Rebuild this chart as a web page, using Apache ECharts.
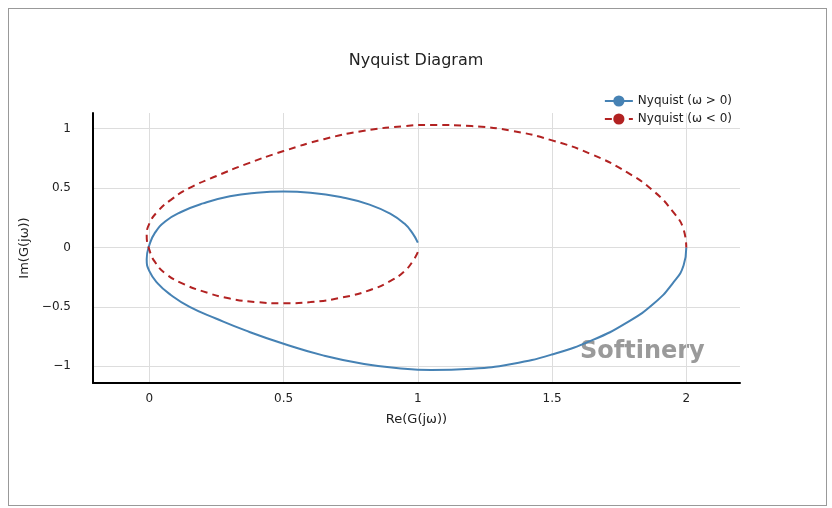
<!DOCTYPE html>
<html>
<head>
<meta charset="utf-8">
<script src="https://cdn.jsdelivr.net/npm/echarts@6/dist/echarts.min.js"></script>
<style>
html,body{margin:0;padding:0;background:#fff;}
#frame{position:absolute;left:8px;top:8px;width:817px;height:496px;border:1px solid #999;}
#main{position:absolute;left:0;top:0;width:832px;height:508px;}
</style>
</head>
<body>
<div id="frame"></div>
<div id="main"></div>
<script>
// Nyquist (w > 0)
var posPts = [[1.00,0.04],[0.98,0.12],[0.95,0.20],[0.90,0.28],[0.82,0.36],[0.72,0.42],[0.60,0.46],[0.50,0.47],
	[0.40,0.46],[0.30,0.43],[0.20,0.37],[0.12,0.30],[0.06,0.22],[0.02,0.12],[0.00,0.02],[-0.01,-0.10],
	[0.00,-0.20],[0.03,-0.30],[0.08,-0.40],[0.15,-0.50],[0.25,-0.60],[0.36,-0.70],[0.50,-0.81],[0.65,-0.91],
	[0.80,-0.98],[0.95,-1.02],[1.05,-1.03],[1.20,-1.02],[1.35,-0.98],[1.50,-0.90],[1.65,-0.78],[1.78,-0.63],
	[1.88,-0.47],[1.95,-0.30],[1.99,-0.15],[2.00,0.00]];
// Nyquist (w < 0)
var negPts = [[1.00,-0.04],[0.98,-0.12],[0.95,-0.20],[0.90,-0.28],[0.82,-0.36],[0.72,-0.42],[0.60,-0.46],[0.50,-0.47],
	[0.40,-0.46],[0.30,-0.43],[0.20,-0.37],[0.12,-0.30],[0.06,-0.22],[0.02,-0.12],[0.00,-0.02],[-0.01,0.10],
	[0.00,0.20],[0.03,0.30],[0.08,0.40],[0.15,0.50],[0.25,0.60],[0.36,0.70],[0.50,0.81],[0.65,0.91],
	[0.80,0.98],[0.95,1.02],[1.05,1.03],[1.20,1.02],[1.35,0.98],[1.50,0.90],[1.65,0.78],[1.78,0.63],
	[1.88,0.47],[1.95,0.30],[1.99,0.15],[2.00,0.00]];
var xTicks = [0, 0.5, 1, 1.5, 2];
var yTicks = [-1, -0.5, 0, 0.5, 1];

var chart = echarts.init(document.getElementById('main'));
var font = 'Verdana, "DejaVu Sans", sans-serif';
var fmt = function(v){ return String(v).replace('-', '\u2212'); };
chart.setOption({
	animation: false,
	textStyle: {fontFamily: font},
	title: {text: 'Nyquist Diagram', left: 'center', top: 48,
		textStyle: {fontFamily: font, fontSize: 16, fontWeight: 'normal', color: '#222'}},
	legend: {
		top: 90, right: 95, orient: 'vertical', itemGap: 6, itemWidth: 28,
		textStyle: {fontFamily: font, fontSize: 12, color: '#222'},
		data: ['Nyquist (\u03c9 > 0)', 'Nyquist (\u03c9 < 0)']
	},
	grid: {left: 93, right: 92, top: 113, bottom: 125},
	xAxis: {
		type: 'value', min: -0.21, max: 2.2,
		name: 'Re(G(j\u03c9))', nameLocation: 'middle', nameGap: 30,
		nameTextStyle: {fontFamily: font, fontSize: 13, color: '#222'},
		axisLine: {show: true, onZero: false, lineStyle: {color: '#000', width: 2}},
		axisTick: {show: false, customValues: xTicks},
		axisLabel: {fontSize: 12, color: '#222', margin: 10, customValues: xTicks, formatter: fmt},
		splitLine: {show: true, lineStyle: {color: '#ddd'}}
	},
	yAxis: {
		type: 'value', min: -1.14, max: 1.13,
		name: 'Im(G(j\u03c9))', nameLocation: 'middle', nameGap: 52,
		nameTextStyle: {fontFamily: font, fontSize: 13, color: '#222'},
		axisLine: {show: true, onZero: false, lineStyle: {color: '#000', width: 2}},
		axisTick: {show: false, customValues: yTicks},
		axisLabel: {fontSize: 12, color: '#222', margin: 22, customValues: yTicks, formatter: fmt},
		splitLine: {show: true, lineStyle: {color: '#ddd'}}
	},
	graphic: [{
		type: 'text', left: 580, top: 340,
		style: {text: 'Softinery', fontSize: 24, fontWeight: 'bold', fill: 'rgba(120,120,120,0.75)', fontFamily: font}
	}],
	series: [
		{name: 'Nyquist (\u03c9 > 0)', type: 'line', data: posPts, smooth: true, symbol: 'none',
			color: '#4682b4', lineStyle: {width: 2}},
		{name: 'Nyquist (\u03c9 < 0)', type: 'line', data: negPts, smooth: true, symbol: 'none',
			color: '#b22222', lineStyle: {width: 2, type: [7, 5]}}
	]
});
</script>
</body>
</html>
